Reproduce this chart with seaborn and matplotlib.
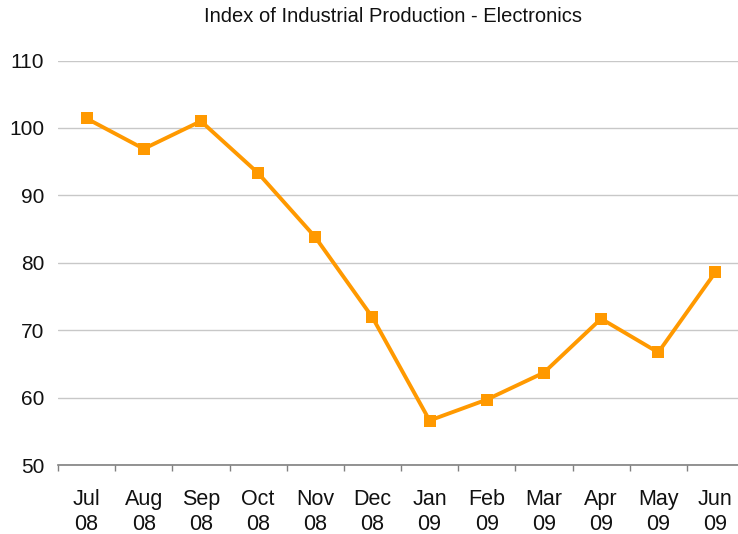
import numpy as np
import pandas as pd
import matplotlib
matplotlib.use("Agg")
import matplotlib.pyplot as plt
import seaborn as sns

months = ["Jul\n08", "Aug\n08", "Sep\n08", "Oct\n08", "Nov\n08", "Dec\n08",
          "Jan\n09", "Feb\n09", "Mar\n09", "Apr\n09", "May\n09", "Jun\n09"]
index_values = [101.4, 96.9, 101.0, 93.3, 83.8, 71.9,
                56.6, 59.7, 63.7, 71.7, 66.7, 78.6]
y_ticks = [50, 60, 70, 80, 90, 100, 110]

sns.set_style("white")
plt.rcParams['font.family'] = ['Liberation Sans', 'DejaVu Sans']

df = pd.DataFrame({"pos": np.arange(len(months)), "value": index_values})

fig = plt.figure(figsize=(7.38, 5.34), dpi=100)
ax = fig.add_axes([58 / 738, 1 - 465 / 534, 686 / 738, (465 - 60.5) / 534])

sns.lineplot(data=df, x="pos", y="value", ax=ax, color="#FF9900",
             linewidth=2.8, marker="s", markersize=8.5, markeredgewidth=0)

ax.set_xlim(-0.5, len(months) - 0.5)
ax.set_ylim(50, 110)
ax.set_yticks(y_ticks)
ax.set_xticks(np.arange(len(months)))
ax.set_xticklabels(months)
ax.set_xticks(np.arange(len(months) + 1) - 0.5, minor=True)
ax.tick_params(axis="x", which="major", bottom=False, length=0, pad=17,
               labelsize=15.5, colors="#111111")
ax.tick_params(axis="x", which="minor", bottom=True, length=4.5, width=1,
               color="#808080", direction="out")
ax.tick_params(axis="y", left=False, length=0, pad=10, labelsize=15, colors="#111111")
for lbl in ax.get_xticklabels():
    lbl.set_linespacing(1.3)

ax.grid(axis="y", color="#C8C8C8", linewidth=1)
ax.set_axisbelow(True)
for side in ["left", "right", "top"]:
    ax.spines[side].set_visible(False)
ax.spines["bottom"].set_color("#808080")
ax.spines["bottom"].set_linewidth(1.2)
ax.set_xlabel("")
ax.set_ylabel("")

fig.text(0.532, 1 - 17 / 534, "Index of Industrial Production - Electronics",
         ha="center", va="center", fontsize=14.5, color="#111111")

fig.savefig("out.png", dpi=100)
